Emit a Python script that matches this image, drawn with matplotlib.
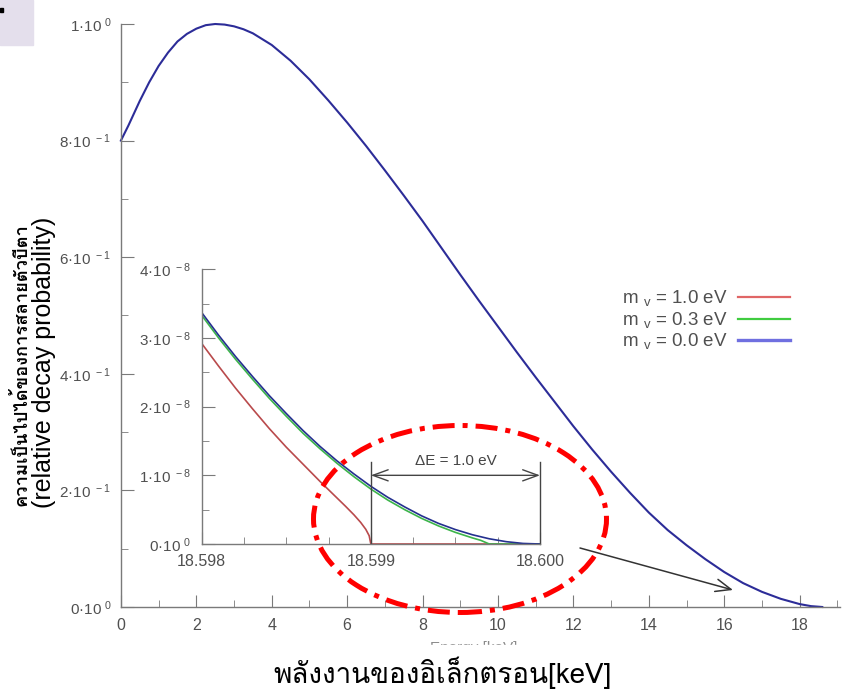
import matplotlib
matplotlib.use("Agg")
import matplotlib.pyplot as plt
from matplotlib import font_manager
from matplotlib.ft2font import FT2Font
from matplotlib.lines import Line2D
from matplotlib.patches import Ellipse, Rectangle, FancyArrowPatch
from matplotlib.ticker import MultipleLocator

# main spectrum
energy_kev = [0.0, 0.2, 0.5, 0.75, 1.0, 1.25, 1.5, 1.75, 2.0, 2.25, 2.5, 2.75, 3.0,
              3.25, 3.5, 4.0, 4.5, 5.0, 5.5, 6.0, 6.5, 7.0, 7.5, 8.0, 8.5, 9.0, 9.5,
              10.0, 10.5, 11.0, 11.5, 12.0, 12.5, 13.0, 13.5, 14.0, 14.5, 15.0, 15.5,
              16.0, 16.5, 17.0, 17.5, 18.0, 18.3, 18.6]
probability = [0.800, 0.826, 0.868, 0.900, 0.928, 0.951, 0.970, 0.983, 0.992, 0.998,
               1.000, 0.999, 0.996, 0.991, 0.984, 0.964, 0.937, 0.905, 0.869, 0.831,
               0.791, 0.749, 0.706, 0.662, 0.616, 0.570, 0.525, 0.481, 0.437, 0.394,
               0.352, 0.310, 0.270, 0.232, 0.196, 0.162, 0.132, 0.106, 0.082, 0.060,
               0.041, 0.026, 0.014, 0.005, 0.0015, 0.0]

# inset near the endpoint, values in units of 1e-8
inset_e_m0 = [18.598, 18.5981, 18.5982, 18.5983, 18.5984, 18.5985, 18.5986, 18.5987,
              18.5988, 18.5989, 18.599, 18.5991, 18.5992, 18.5993, 18.5994, 18.5995,
              18.5996, 18.5997, 18.5998, 18.5999, 18.600]
inset_m0 = [3.37, 3.04, 2.73, 2.44, 2.16, 1.90, 1.65, 1.42, 1.21, 1.02, 0.84, 0.68,
            0.54, 0.41, 0.30, 0.21, 0.135, 0.076, 0.034, 0.008, 0.0]
inset_e_m03 = [18.598, 18.5981, 18.5982, 18.5983, 18.5984, 18.5985, 18.5986, 18.5987,
               18.5988, 18.5989, 18.599, 18.5991, 18.5992, 18.5993, 18.5994, 18.5995,
               18.5996, 18.59965, 18.5997, 18.600]
inset_m03 = [3.33, 3.00, 2.69, 2.40, 2.12, 1.86, 1.61, 1.385, 1.175, 0.98, 0.80, 0.64,
             0.50, 0.373, 0.263, 0.169, 0.089, 0.053, 0.0, 0.0]
inset_e_m1 = [18.598, 18.5981, 18.5982, 18.5983, 18.5984, 18.5985, 18.5986, 18.5987,
              18.5988, 18.59885, 18.5989, 18.59894, 18.59897, 18.59899, 18.599, 18.600]
inset_m1 = [2.92, 2.59, 2.27, 1.97, 1.68, 1.41, 1.16, 0.91, 0.67, 0.55, 0.425, 0.314,
            0.214, 0.121, 0.0, 0.0]

legend_labels = ["m $_\\mathregular{v}$ = 1.0 eV", "m $_\\mathregular{v}$ = 0.3 eV",
                 "m $_\\mathregular{v}$ = 0.0 eV"]
main_yticks = [0, 0.2, 0.4, 0.6, 0.8, 1.0]
main_ylabels = ["0·10^{0}", "2·10^{-1}", "4·10^{-1}", "6·10^{-1}", "8·10^{-1}", "1·10^{0}"]
inset_xticks = [18.598, 18.599, 18.600]
inset_yticks = [0, 1, 2, 3, 4]
inset_ylabels = ["0·10^{0}", "1·10^{-8}", "2·10^{-8}", "3·10^{-8}", "4·10^{-8}"]


def thai_family():
    found = []
    for f in font_manager.fontManager.ttflist:
        try:
            cmap = FT2Font(f.fname).get_charmap()
        except Exception:
            continue
        if 0x0E01 in cmap:
            found.append(f.name)
    for pref in ["Tahoma", "Loma", "Garuda", "Noto Sans Thai", "Noto Sans Thai UI",
                 "Waree", "Norasi", "Kinnari", "Sarabun"]:
        if pref in found:
            return pref
    return found[0] if found else "DejaVu Sans"


def sup(s):
    base, exp = s.split("^")
    return "$\\mathregular{" + base + "^{\\,\\," + exp[1:-1] + "}}$"


plt.rcParams["font.family"] = ["Liberation Sans", "DejaVu Sans"]
thai = [thai_family(), "Liberation Sans", "DejaVu Sans"]

W, H = 847, 693
fig = plt.figure(figsize=(W / 100, H / 100), dpi=100)
fig.patch.set_facecolor("white")

gray_axis = "#7a7a7a"
gray_text = "#505050"

ax = fig.add_axes([120.9 / W, (H - 607) / H, (840 - 120.9) / W, (607 - 24) / H])
ax.plot(energy_kev, probability, color="#2c2c98", lw=1.5, clip_on=False)
ax.set_xlim(0, 19.07)
ax.set_ylim(0, 1.0)
ax.xaxis.set_major_locator(MultipleLocator(2))
ax.xaxis.set_minor_locator(MultipleLocator(1))
ax.yaxis.set_minor_locator(MultipleLocator(0.1))
ax.set_yticks(main_yticks)
ax.set_yticklabels([sup(s) for s in main_ylabels])
for side in ["top", "right"]:
    ax.spines[side].set_visible(False)
for side in ["left", "bottom"]:
    ax.spines[side].set_color(gray_axis)
    ax.spines[side].set_linewidth(1.0)
ax.tick_params(which="both", direction="in", color=gray_axis, labelcolor=gray_text,
               labelsize=11.5, pad=7)
ax.tick_params(axis="y", labelsize=11)
ax.tick_params(axis="x", pad=8)
ax.tick_params(which="major", length=9)
ax.tick_params(which="minor", length=5)

handles = [Line2D([], [], color="#e06666", lw=1.6),
           Line2D([], [], color="#40cc40", lw=1.6),
           Line2D([], [], color="#6f6fe0", lw=2.4)]
ax.legend(handles, legend_labels, loc="upper right",
          bbox_to_anchor=(790 / W, (H - 289) / H), bbox_transform=fig.transFigure,
          frameon=False, markerfirst=False, handlelength=2.8, handletextpad=0.55,
          labelspacing=0.05, fontsize=13.5, labelcolor=gray_text, borderpad=0,
          borderaxespad=0)

# inset
axi = fig.add_axes([201.7 / W, (H - 544) / H, (540 - 201.7) / W, (544 - 269.3) / H])
axi.set_facecolor("none")
axi.plot(inset_e_m1, inset_m1, color="#b94a4c", lw=1.2)
axi.plot(inset_e_m03, inset_m03, color="#3cb44a", lw=1.2)
axi.plot(inset_e_m0, inset_m0, color="#24308f", lw=1.2)
axi.set_xlim(18.598, 18.600)
axi.set_ylim(0, 4)
axi.set_xticks(inset_xticks)
axi.set_xticklabels(["18.598", "18.599", "18.600"])
axi.xaxis.set_minor_locator(MultipleLocator(0.00025))
axi.set_yticks(inset_yticks)
axi.set_yticklabels([sup(s) for s in inset_ylabels])
axi.yaxis.set_minor_locator(MultipleLocator(0.5))
for side in ["top", "right"]:
    axi.spines[side].set_visible(False)
for side in ["left", "bottom"]:
    axi.spines[side].set_color(gray_axis)
    axi.spines[side].set_linewidth(1.0)
axi.tick_params(which="both", direction="in", color=gray_axis, labelcolor=gray_text,
                labelsize=11.5, pad=8)
axi.tick_params(axis="y", labelsize=11)
axi.tick_params(axis="x", pad=7)
axi.tick_params(which="major", length=9)
axi.tick_params(which="minor", length=5)

# delta E bracket
axi.plot([18.599, 18.599], [0, 1.19], color="#444444", lw=1.0)
axi.plot([18.600, 18.600], [0, 1.19], color="#444444", lw=1.0, clip_on=False)
axi.add_patch(FancyArrowPatch((18.599, 1.0), (18.600, 1.0),
                              arrowstyle="<->,head_length=1.1,head_width=0.4",
                              mutation_scale=10, color="#444444", lw=1.0,
                              shrinkA=0, shrinkB=0))
axi.text(18.5995, 1.21, "ΔE = 1.0 eV", ha="center", va="center", fontsize=11,
         color="#444444")

# hidden english label fragment and its cover
fig.text(474 / W, (H - 641) / H, "Energy [keV]", ha="center", va="top",
         fontsize=11, color="#8a8a8a")
fig.add_artist(Rectangle((380 / W, 0), 200 / W, (H - 645) / H,
                         transform=fig.transFigure, color="white", zorder=3.5))

# axis titles
fig.text(442 / W, (H - 673) / H, "พลังงานของอิเล็กตรอน[keV]", ha="center",
         va="center", fontsize=20, color="black", family=thai, zorder=4)
fig.text(21 / W, (H - 365) / H, "ความเป็นไปได้ของการสลายตัวบีตา", rotation=90,
         ha="center", va="center", fontsize=13.2, color="black", family=thai,
         weight="bold")
fig.text(44 / W, (H - 362) / H, "(relative decay probability)", rotation=90,
         ha="center", va="center", fontsize=18, color="black")

# red dash-dot ellipse and pointer arrow
fig.add_artist(Ellipse((460 / W, (H - 519) / H), 293 / W, 187 / H,
                       transform=fig.transFigure, fill=False, edgecolor="#ff0000",
                       lw=3.6, linestyle=(0, (4.4, 1.6, 1.0, 1.6)), zorder=5))
fig.add_artist(FancyArrowPatch((580 / W, (H - 548) / H), (733 / W, (H - 590) / H),
                               transform=fig.transFigure,
                               arrowstyle="->,head_length=1.1,head_width=0.45",
                               mutation_scale=10, color="#333333", lw=1.1,
                               shrinkA=0, shrinkB=0, zorder=5))

# slide corner
fig.add_artist(Rectangle((0, 1 - 45 / H), 33 / W, 45 / H, transform=fig.transFigure,
                         color="#e4dfec", zorder=1))
fig.add_artist(Rectangle((0, 1 - 12 / H), 3 / W, 4 / H, transform=fig.transFigure,
                         color="black", zorder=2))

fig.savefig("out.png", dpi=100)
